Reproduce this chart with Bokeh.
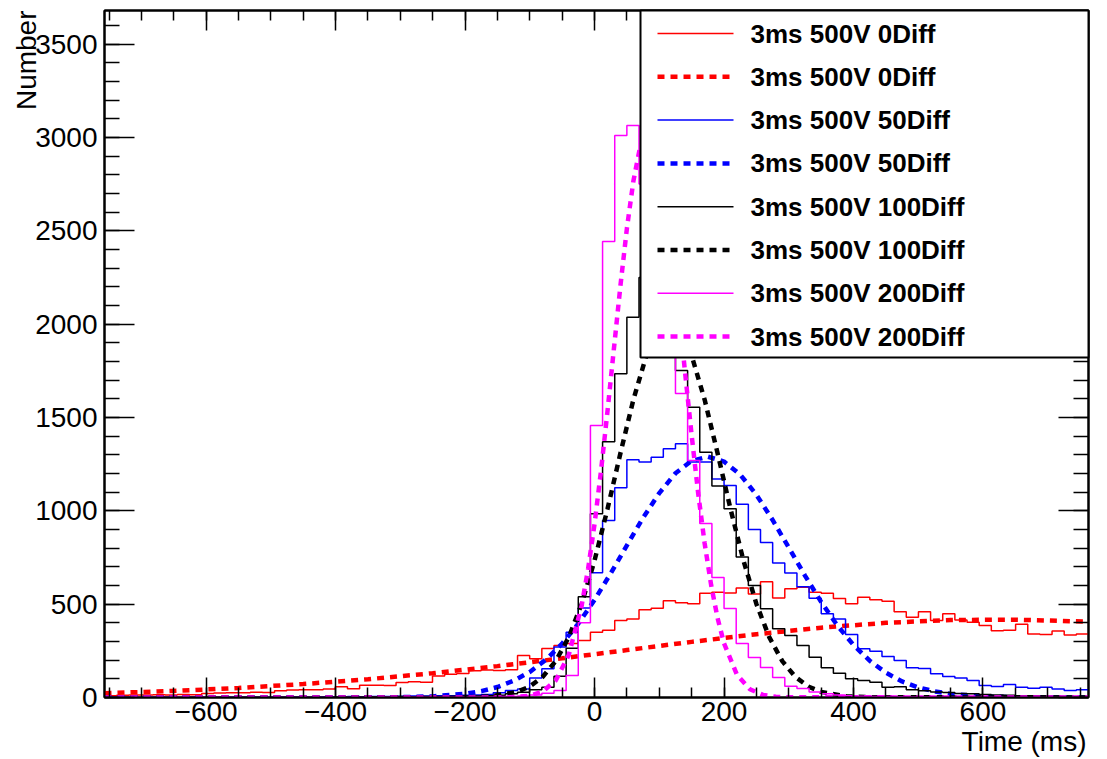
import numpy as np
from bokeh.plotting import figure
from bokeh.models import SingleIntervalTicker, LinearAxis, Title, CustomJSTickFormatter
from bokeh.core.properties import value
from bokeh.embed import file_html
from bokeh.resources import INLINE

# ---------------- data ----------------
X_LO, X_HI = -757.0, 763.0   # histogram / axis range (ms)
N_BINS = 81
Y_LO, Y_HI = 0.0, 3680.0

series_labels = ["3ms 500V 0Diff", "3ms 500V 50Diff", "3ms 500V 100Diff", "3ms 500V 200Diff"]
series_colors = ["#ff0000", "#0000ff", "#000000", "#ff00ff"]

counts_0diff = [10, 12, 14, 13, 15, 14, 16, 15,
                22, 24, 26, 25, 28, 27,
                36, 40, 42, 41, 45,
                58, 47, 66, 66, 64,
                80, 84, 82, 115, 125, 128, 143, 147, 145, 148,
                225, 208, 262, 279, 289, 305, 350, 360, 412, 421, 470, 478, 518, 507, 502,
                559, 564, 560, 586, 555, 620, 533, 582, 591, 564, 559, 530, 502, 537, 523,
                515, 460, 430, 460, 412, 448, 415, 403, 386, 357, 360, 393, 340, 338, 356,
                335, 340]

counts_50diff = [0, 0, 0, 1, 0, 1, 0, 1, 1, 0, 2, 1, 2, 1, 2, 3, 2, 3, 4, 3, 5,
                 4, 6, 5, 7, 8, 8, 10, 9, 12, 14, 16,
                 25, 37, 45, 105, 154, 270, 350, 480, 668, 948, 1123, 1273, 1261, 1287,
                 1332, 1359, 1261, 1261, 1171, 1135, 1035, 900, 830, 720, 667, 593, 532,
                 448, 421, 338, 261, 248, 220, 198, 159, 155, 127, 112, 105, 91, 64, 59,
                 70, 55, 50, 55, 46, 37, 41]

counts_100diff = [0, 0, 0, 0, 1, 0, 0, 1, 0, 1, 0, 1, 1, 0, 1, 2, 1, 2, 2, 3, 2,
                  3, 4, 3, 5, 4, 6, 5, 7, 8, 8, 10, 12,
                  20, 28, 41, 55, 114, 264, 540, 984, 1370, 1734, 2037, 2250, 2150, 1950,
                  1752, 1555, 1314, 1133, 1011, 752, 600, 475, 368, 332, 279, 216, 160,
                  130, 100, 91, 82, 55, 57, 41, 36, 30, 27, 22, 20, 16, 14, 12, 10, 10,
                  8, 7, 6, 5]

counts_200diff = [0, 0, 0, 0, 0, 0, 0, 0, 0, 0, 0, 0, 0, 0, 0, 0, 0, 0, 0, 0, 0, 0, 0,
                  1, 0, 1, 1, 2, 1, 2, 3, 3, 5, 6, 8,
                  14, 23, 37, 118, 400, 1457, 2443, 3011, 3064, 2750, 2350, 1950, 1628,
                  1270, 932, 643, 477, 289, 214, 161, 107, 60, 48, 30, 20, 14, 10, 7, 6,
                  5, 4, 3, 3, 2, 2, 1, 1, 1, 1, 0, 1, 0, 0, 0, 0, 0]

# fitted curves
fit_0diff_x = [-757, -650, -550, -450, -350, -250, -150, -50, 50, 150, 250, 350, 450, 550, 650, 763]
fit_0diff_y = [23, 35, 51, 72, 98, 130, 168, 210, 254, 298, 339, 374, 400, 415, 417, 406]

fit_50diff_x = [-757, -400, -300, -250, -200, -175, -150, -125, -100, -75, -50, -25, 0, 25, 50,
                75, 100, 125, 150, 175, 200, 225, 250, 275, 300, 325, 350, 375, 400, 425,
                450, 475, 500, 525, 550, 600, 650, 763]
fit_50diff_y = [0, 0, 2, 6, 20, 34, 56, 90, 137, 203, 289, 396, 523, 665, 815,
                963, 1095, 1201, 1268, 1290, 1264, 1194, 1086, 951, 803, 653, 512, 386, 281, 197,
                133, 86, 54, 33, 19, 6, 1, 0]

fit_100diff_x = [-757, -200, -160, -120, -100, -80, -60, -40, -20, 0, 20, 40, 60, 80, 100, 115,
                 130, 150, 170, 190, 210, 230, 250, 270, 290, 310, 330, 350, 390, 430, 763]
fit_100diff_y = [0, 1, 6, 30, 59, 111, 195, 322, 501, 734, 1010, 1309, 1596, 1831, 1976, 2010,
                 1976, 1831, 1596, 1309, 1010, 734, 501, 322, 195, 111, 59, 30, 6, 1, 0]

fit_200diff_x = [-757, -200, -150, -120, -100, -80, -60, -40, -20, -10, 0, 10, 20, 30, 40, 50, 60,
                 70, 83, 95, 110, 120, 130, 140, 150, 160, 170, 180, 190, 200, 220, 240, 260,
                 280, 300, 763]
fit_200diff_y = [0, 0, 0, 3, 10, 32, 91, 226, 491, 688, 930, 1215, 1534, 1872, 2207, 2514, 2767,
                 2943, 3030, 2956, 2674, 2396, 2075, 1735, 1404, 1096, 827, 604, 426, 290, 121,
                 44, 14, 4, 1, 0]

hist_counts = [counts_0diff, counts_50diff, counts_100diff, counts_200diff]
fit_xs = [fit_0diff_x, fit_50diff_x, fit_100diff_x, fit_200diff_x]
fit_ys = [fit_0diff_y, fit_50diff_y, fit_100diff_y, fit_200diff_y]

# ---------------- layout ----------------
FONT = "Liberation Sans"
FRAME_W, FRAME_H = 984, 687
BL, BR, BT, BB = 104, 15, 10, 60
W, H = BL + FRAME_W + BR, BT + FRAME_H + BB

p = figure(width=W, height=H, x_range=(X_LO, X_HI), y_range=(Y_LO, Y_HI),
           output_backend="svg", toolbar_location=None,
           min_border_left=BL, min_border_right=BR, min_border_top=BT, min_border_bottom=BB,
           background_fill_color="white", border_fill_color="white")
p.xgrid.visible = False
p.ygrid.visible = False
p.outline_line_color = "black"
p.outline_line_width = 2

minus_fmt = CustomJSTickFormatter(code="return tick < 0 ? '\u2212' + Math.abs(tick) : tick.toString();")
blank_fmt = CustomJSTickFormatter(code="return '';")

def style_axis(ax, maj, mnr, show_labels=True, standoff=6):
    ax.major_tick_in = maj
    ax.major_tick_out = 0
    ax.minor_tick_in = mnr
    ax.minor_tick_out = 0
    ax.axis_line_width = 2
    ax.axis_line_color = "black"
    ax.major_tick_line_color = "black"
    ax.minor_tick_line_color = "black"
    ax.major_tick_line_width = 1.5
    ax.minor_tick_line_width = 1.5
    if show_labels:
        ax.major_label_text_font = FONT
        ax.major_label_text_font_size = "28px"
        ax.major_label_text_color = "black"
        ax.major_label_standoff = standoff
    else:
        ax.formatter = blank_fmt
        ax.major_label_text_font_size = "2px"
        ax.major_label_standoff = 0

xa = p.xaxis[0]
xa.ticker = SingleIntervalTicker(interval=200, num_minor_ticks=4)
xa.formatter = minus_fmt
style_axis(xa, 20, 10, standoff=4)
ya = p.yaxis[0]
ya.ticker = SingleIntervalTicker(interval=500, num_minor_ticks=5)
style_axis(ya, 30, 15, standoff=7)

top_ax = LinearAxis(ticker=SingleIntervalTicker(interval=200, num_minor_ticks=4))
style_axis(top_ax, 20, 10, show_labels=False)
p.add_layout(top_ax, "above")
right_ax = LinearAxis(ticker=SingleIntervalTicker(interval=500, num_minor_ticks=5))
style_axis(right_ax, 30, 15, show_labels=False)
p.add_layout(right_ax, "right")

# axis titles (ROOT style: at the end of each axis)
p.add_layout(Title(text="Time (ms)", align="right", text_font=FONT, text_font_size="28px",
                   text_font_style="normal", text_color="black", standoff=0, offset=2), "below")
p.add_layout(Title(text="Number", align="right", text_font=FONT, text_font_size="28px",
                   text_font_style="normal", text_color="black", standoff=-19), "left")

# ---------------- histograms + fits ----------------
edges = np.linspace(X_LO, X_HI, N_BINS + 1)
for cnt, fx, fy, col in zip(hist_counts, fit_xs, fit_ys, series_colors):
    ys = list(cnt) + [cnt[-1]]
    p.step(edges, ys, mode="after", line_color=col, line_width=1.5)
    p.line(fx, fy, line_color=col, line_width=4.5, line_dash="7 6")

# ---------------- legend (drawn manually, ROOT style) ----------------
sx = (X_HI - X_LO) / FRAME_W   # data units per px
sy = (Y_HI - Y_LO) / FRAME_H
LEG_LEFT_PX = 536               # from frame left
LEG_H_PX = 347
ROW0_PX, ROW_DY_PX = 23, 43.3
SAMPLE_X0_PX, SAMPLE_X1_PX, TEXT_X_PX = 553, 629, 646

leg_left = X_LO + LEG_LEFT_PX * sx
leg_bottom = Y_HI - LEG_H_PX * sy
p.quad(left=[leg_left], right=[X_HI], bottom=[leg_bottom], top=[Y_HI],
       fill_color="white", line_color="black", line_width=2, level="overlay")

entry_text, entry_col, entry_dash, entry_w = [], [], [], []
for lab, col in zip(series_labels, series_colors):
    entry_text += [lab, lab]
    entry_col += [col, col]
    entry_dash += ["solid", "7 6"]
    entry_w += [1.5, 4.5]

for i, (t, c, d, w) in enumerate(zip(entry_text, entry_col, entry_dash, entry_w)):
    yc = Y_HI - (ROW0_PX + ROW_DY_PX * i) * sy
    p.line([X_LO + SAMPLE_X0_PX * sx, X_LO + SAMPLE_X1_PX * sx], [yc, yc],
           line_color=c, line_width=w, line_dash=d, level="overlay")
    p.text(x=[X_LO + TEXT_X_PX * sx], y=[yc], text=[t], text_font=value(FONT),
           text_font_style="bold", text_font_size="26px", text_baseline="middle",
           text_align="left", text_color="black", level="overlay")

open("out.html", "w").write(file_html(p, INLINE))
